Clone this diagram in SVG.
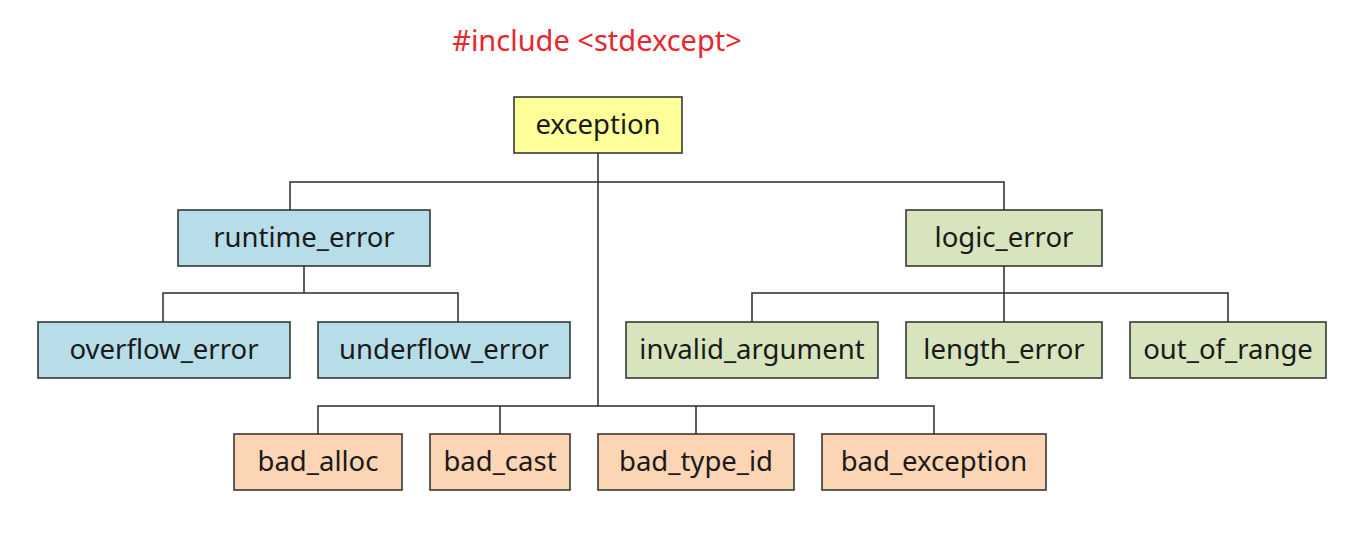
<svg xmlns="http://www.w3.org/2000/svg" width="1365" height="553" viewBox="0 0 1365 553">
<style>
rect{stroke:#2b2b2b;stroke-width:1.5}
.y{fill:#ffff99}.b{fill:#b7dde8}.g{fill:#d7e4bd}.o{fill:#fcd5b5}
text{font-family:"Noto Sans","Open Sans",sans-serif;font-size:27.5px;fill:#1a1a1a;text-anchor:middle;dominant-baseline:central}
#conn path{fill:none;stroke:#2b2b2b;stroke-width:1.5}
</style>
<rect width="1365" height="553" fill="#ffffff" style="stroke:none"/>
<text x="597" y="39" style="fill:#e8262d;font-size:29px">#include &lt;stdexcept&gt;</text>
<g id="conn">
<path d="M598 153V406M290 210V182H1004V210M304 266V293M163 322V293H458V322M1004 266V293M752 322V293H1228V322M1004 293V322M318 434V406H934V434M500 406V434M696 406V434"/>
</g>
<g id="exception"><rect class="y" x="514" y="97" width="168" height="56"/><text x="598" y="123">exception</text></g>
<g id="runtime_error"><rect class="b" x="178" y="210" width="252" height="56"/><text x="304" y="236">runtime_error</text></g>
<g id="logic_error"><rect class="g" x="906" y="210" width="196" height="56"/><text x="1004" y="236">logic_error</text></g>
<g id="overflow_error"><rect class="b" x="38" y="322" width="252" height="56"/><text x="164" y="348">overflow_error</text></g>
<g id="underflow_error"><rect class="b" x="318" y="322" width="252" height="56"/><text x="444" y="348">underflow_error</text></g>
<g id="invalid_argument"><rect class="g" x="626" y="322" width="252" height="56"/><text x="752" y="348">invalid_argument</text></g>
<g id="length_error"><rect class="g" x="906" y="322" width="196" height="56"/><text x="1004" y="348">length_error</text></g>
<g id="out_of_range"><rect class="g" x="1130" y="322" width="196" height="56"/><text x="1228" y="348">out_of_range</text></g>
<g id="bad_alloc"><rect class="o" x="234" y="434" width="168" height="56"/><text x="318" y="460">bad_alloc</text></g>
<g id="bad_cast"><rect class="o" x="430" y="434" width="140" height="56"/><text x="500" y="460">bad_cast</text></g>
<g id="bad_type_id"><rect class="o" x="598" y="434" width="196" height="56"/><text x="696" y="460">bad_type_id</text></g>
<g id="bad_exception"><rect class="o" x="822" y="434" width="224" height="56"/><text x="934" y="460">bad_exception</text></g>
</svg>
